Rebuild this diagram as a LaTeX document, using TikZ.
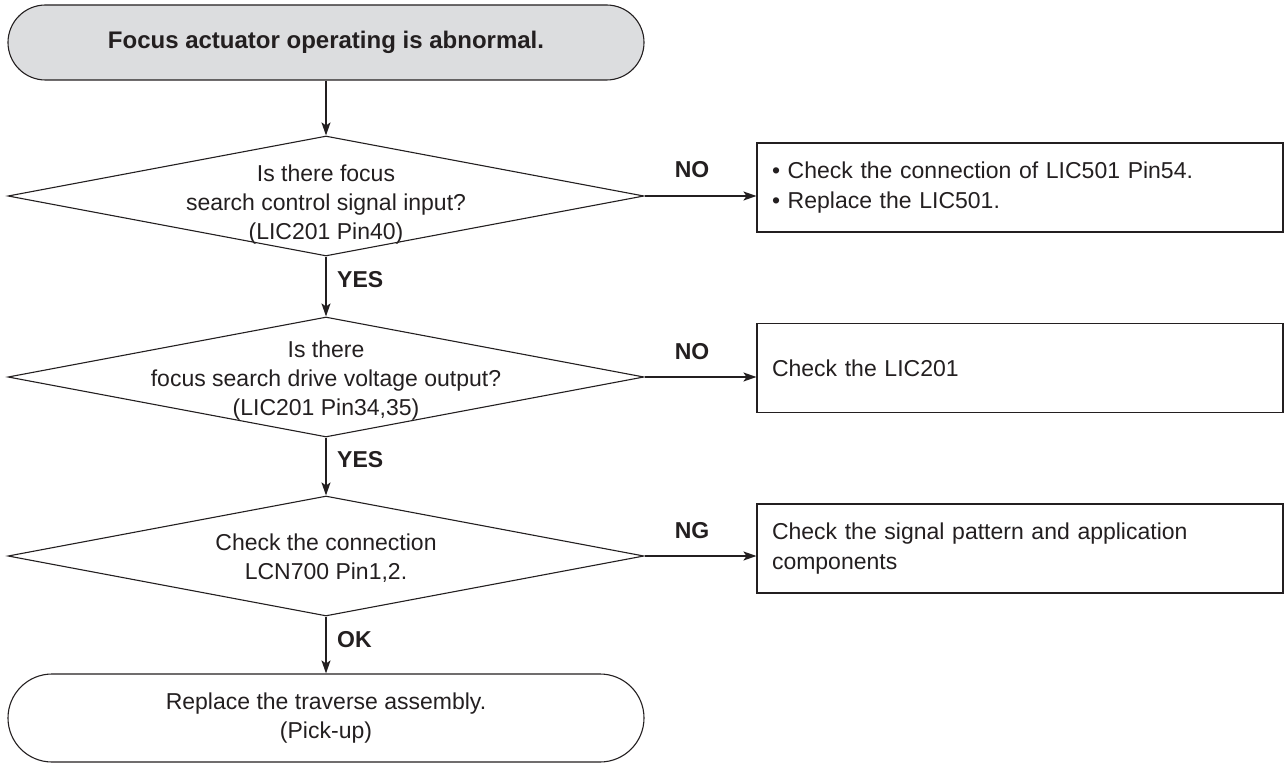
\documentclass[tikz,border=0pt]{standalone}
\usepackage{fontspec}
\setmainfont{Liberation Sans}
\usetikzlibrary{shapes.geometric,shapes.misc,arrows.meta}
\definecolor{ink}{RGB}{35,31,32}
\definecolor{termgray}{RGB}{220,221,223}
\begin{document}
\begin{tikzpicture}[x=1pt,y=-1pt,
  flow/.style={draw=ink,line width=1.4pt,-{Stealth[length=13pt,width=9pt,inset=3pt]}},
  term/.style={rounded rectangle,draw=ink,line width=1.1pt,minimum width=636pt,inner sep=0pt,align=center,text=ink,font=\fontsize{23}{29}\selectfont},
  dia/.style={diamond,draw=ink,line width=1.1pt,minimum width=636pt,minimum height=120pt,inner sep=0pt},
  txt/.style={font=\fontsize{23}{29}\selectfont,text=ink,align=center,inner sep=0pt},
  lbl/.style={font=\fontsize{23}{29}\selectfont\bfseries,text=ink,inner sep=0pt},
  box/.style={rectangle,draw=ink,line width=1.1pt,minimum width=526pt,minimum height=89pt,text width=496pt,inner xsep=15pt,inner ysep=0pt,align=left,font=\fontsize{23}{30}\selectfont,text=ink}]
\useasboundingbox (0,0) rectangle (1285,765);
% terminals
\node[term,fill=termgray,minimum height=75pt,font=\fontsize{24}{29}\selectfont\bfseries] (t1) at (326,42.5) {Focus actuator operating is abnormal.};
\node[term,minimum height=88pt] (t2) at (326,718) {Replace the traverse assembly.\\(Pick-up)};
% decisions
\node[dia] (d1) at (326,196) {};
\node[dia] (d2) at (326,377) {};
\node[dia] (d3) at (326,556) {};
\node[txt] (d1t) at (326,205) {Is there focus\\search control signal input?\\(LIC201 Pin40)};
\node[txt] (d2t) at (326,381) {Is there\\focus search drive voltage output?\\(LIC201 Pin34,35)};
\node[txt] (d3t) at (326,558) {Check the connection\\LCN700 Pin1,2.};
% boxes
\node[box] (b1) at (1020,187.5) {\textbullet\ Check the connection of LIC501 Pin54.\\\textbullet\ Replace the LIC501.};
\node[box] (b2) at (1020,368) {Check the LIC201};
\node[box] (b3) at (1020,548.5) {Check the signal pattern and application\\components};
% labels
\node[lbl] (no1) at (692,170) {NO};
\node[lbl] (no2) at (692,352) {NO};
\node[lbl] (ng) at (692,531) {NG};
\node[lbl,anchor=west] (yes1) at (337,280) {YES};
\node[lbl,anchor=west] (yes2) at (337,460) {YES};
\node[lbl,anchor=west] (ok) at (337,640) {OK};
% connectors
\draw[flow] (t1.south) -- (d1.north);
\draw[flow] (d1.south) -- (d2.north);
\draw[flow] (d2.south) -- (d3.north);
\draw[flow] (d3.south) -- (t2.north);
\draw[flow] (d1.east) -- (d1.east -| b1.west);
\draw[flow] (d2.east) -- (d2.east -| b2.west);
\draw[flow] (d3.east) -- (d3.east -| b3.west);
\end{tikzpicture}
\end{document}
